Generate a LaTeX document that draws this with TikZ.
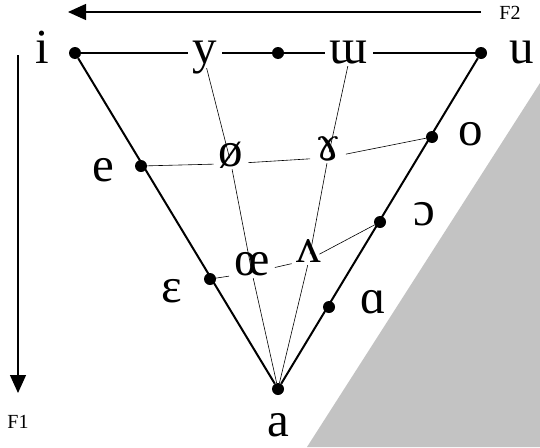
\documentclass[tikz,border=0pt]{standalone}
\usepackage{fontspec}
\setmainfont{Liberation Serif}
\newfontfamily\dvsfont{DejaVu Serif}
\usetikzlibrary{arrows.meta}
\definecolor{greyfill}{RGB}{195,195,195}
\begin{document}
\begin{tikzpicture}[x=1pt,y=-1pt,
  ipa/.style={anchor=base,font=\fontsize{49}{49}\selectfont,text height=0.46em,text depth=0pt,inner xsep=5pt,inner ysep=3pt},
  dot/.style={circle,fill=black,inner sep=0pt,minimum size=12pt},
  edge/.style={line width=2pt},
  grid/.style={line width=0.6pt},
  axis/.style={line width=1.3pt,-{Triangle[length=18pt,width=16pt]}},
  lbl/.style={font=\fontsize{20}{20}\selectfont,anchor=base}]
\useasboundingbox (0,0) rectangle (540,447);
\fill[greyfill] (307,447) -- (540,83) -- (540,447) -- cycle;
% dots
\node[dot] (i) at (75,53) {};
\node[dot] (m) at (278,53) {};
\node[dot] (u) at (481,53) {};
\node[dot] (e) at (141,166) {};
\node[dot] (o) at (432,137) {};
\node[dot] (E) at (210,279) {};
\node[dot] (O) at (380,222) {};
\node[dot] (A) at (329,307) {};
\node[dot] (a) at (278,389) {};
% labels
\node[ipa] (li) at (42,63) {i};
\node[ipa] (lu) at (522,63) {u};
\node[ipa,text depth=0.2em] (y) at (205,63) {y};
\node[ipa] (W) at (349,63) {ɯ};
\node[ipa] (le) at (103,181) {e};
\node[ipa] (oe) at (231,166) {ø};
\node[ipa,font=\dvsfont\fontsize{45}{45}\selectfont] (G) at (328,160) {ɤ};
\node[ipa] (lo) at (471,145) {o};
\node[ipa] (lO) at (424,225) {ɔ};
\node[ipa] (lA) at (373,313) {ɑ};
\node[ipa] (OE) at (252,275) {œ};
\node[ipa] (V) at (309,262) {ʌ};
\node[ipa] (lE) at (172,302) {ɛ};
\node[ipa] (la) at (278,436) {a};
% triangle
\draw[edge] (i) -- (a);
\draw[edge] (u) -- (a);
\draw[edge] (i) -- (i -| y.west) (i -| y.east) -- (m) -- (m -| W.west) (m -| W.east) -- (u);
% inner lines
\draw[grid] (y) -- (oe) -- (OE) -- (a);
\draw[grid] (W) -- (G) -- (V) -- (a);
\draw[grid] (e) -- (oe) -- (G) -- (o);
\draw[grid] (E) -- (OE) -- (V) -- (O);
% axes
\coordinate (f2s) at (481,12);
\coordinate (f2e) at (68,12);
\draw[axis] (f2s) -- (f2e);
\node[lbl] (F2) at (510,19) {F2};
\coordinate (f1s) at (18,55);
\coordinate (f1e) at (18,393);
\draw[axis] (f1s) -- (f1e);
\node[lbl] (F1) at (18,428) {F1};
\end{tikzpicture}
\end{document}
